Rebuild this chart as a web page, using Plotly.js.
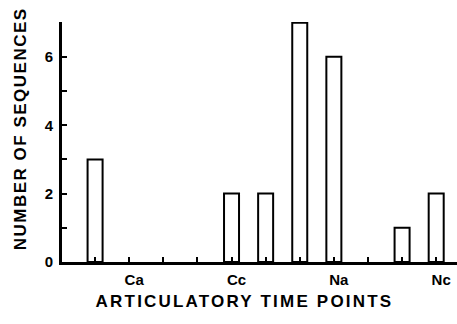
<!DOCTYPE html>
<html>
<head>
<meta charset="utf-8">
<script src="https://cdn.plot.ly/plotly-3.0.1.min.js"></script>
<style>html,body{margin:0;padding:0;background:#fff;}</style>
</head>
<body>
<div id="chart" style="width:457px;height:324px;"></div>
<script>
// Time-point slots along the axis (one tick per slot)
const timeSlots = [0,1,2,3,4,5,6,7,8,9,10];
const slotLabels = ['', 'Ca', '', '', 'Cc', '', '', 'Na', '', '', 'Nc'];
// Bars: slot index and number of sequences
const barSlots = [0, 4, 5, 6, 7, 9, 10];
const barCounts = [3, 2, 2, 7, 6, 1, 2];
// Y ticks
const yTickVals = [0,1,2,3,4,5,6,7];
const yTickText = ['0','','2','','4','','6',''];
const xTitle = 'ARTICULATORY TIME POINTS';
const yTitle = 'NUMBER OF SEQUENCES';

const font = 'Liberation Sans, Arial, sans-serif';

const trace = {
  type: 'bar',
  x: barSlots,
  y: barCounts,
  width: 0.44,
  marker: {color: '#ffffff', line: {color: '#000000', width: 2}},
  hoverinfo: 'x+y',
  cliponaxis: false
};

const layout = {
  width: 457, height: 324,
  margin: {l: 62, r: 0, t: 22, b: 62, pad: 0},
  paper_bgcolor: '#ffffff', plot_bgcolor: '#ffffff',
  showlegend: false,
  xaxis: {
    range: [-0.97, 10.61],
    showline: true, linewidth: 3, linecolor: '#000',
    showgrid: false, zeroline: false,
    ticks: 'inside', ticklen: 5, tickwidth: 2, tickcolor: '#000',
    tickmode: 'array', tickvals: timeSlots, ticktext: slotLabels,
    ticklabelshift: 5, ticklabelstandoff: 2,
    tickfont: {family: font, size: 15, color: '#000', weight: 'bold'}
  },
  yaxis: {
    range: [0, 7.02],
    showline: true, linewidth: 3, linecolor: '#000',
    showgrid: false, zeroline: false,
    ticks: 'inside', ticklen: 5, tickwidth: 2, tickcolor: '#000',
    tickmode: 'array', tickvals: yTickVals, ticktext: yTickText,
    ticklabelstandoff: 3,
    tickfont: {family: font, size: 15, color: '#000', weight: 'bold'}
  },
  annotations: [
    {text: xTitle, xref: 'paper', yref: 'paper', x: (244-62)/395, y: (262-301)/240,
     showarrow: false, xanchor: 'center', yanchor: 'middle',
     font: {family: font, size: 17, color: '#000', weight: 'bold'}},
    {text: yTitle, xref: 'paper', yref: 'paper', x: (20-62)/395, y: (262-129)/240,
     textangle: -90, showarrow: false, xanchor: 'center', yanchor: 'middle',
     font: {family: font, size: 17, color: '#000', weight: 'bold'}}
  ]
};

Plotly.newPlot('chart', [trace], layout, {displayModeBar: false, staticPlot: true}).then(function(gd){
  const t = gd.querySelectorAll('.annotation-text');
  if (t[0]) t[0].style.letterSpacing = '2.2px';
  if (t[1]) t[1].style.letterSpacing = '1.5px';
});
</script>
</body>
</html>
